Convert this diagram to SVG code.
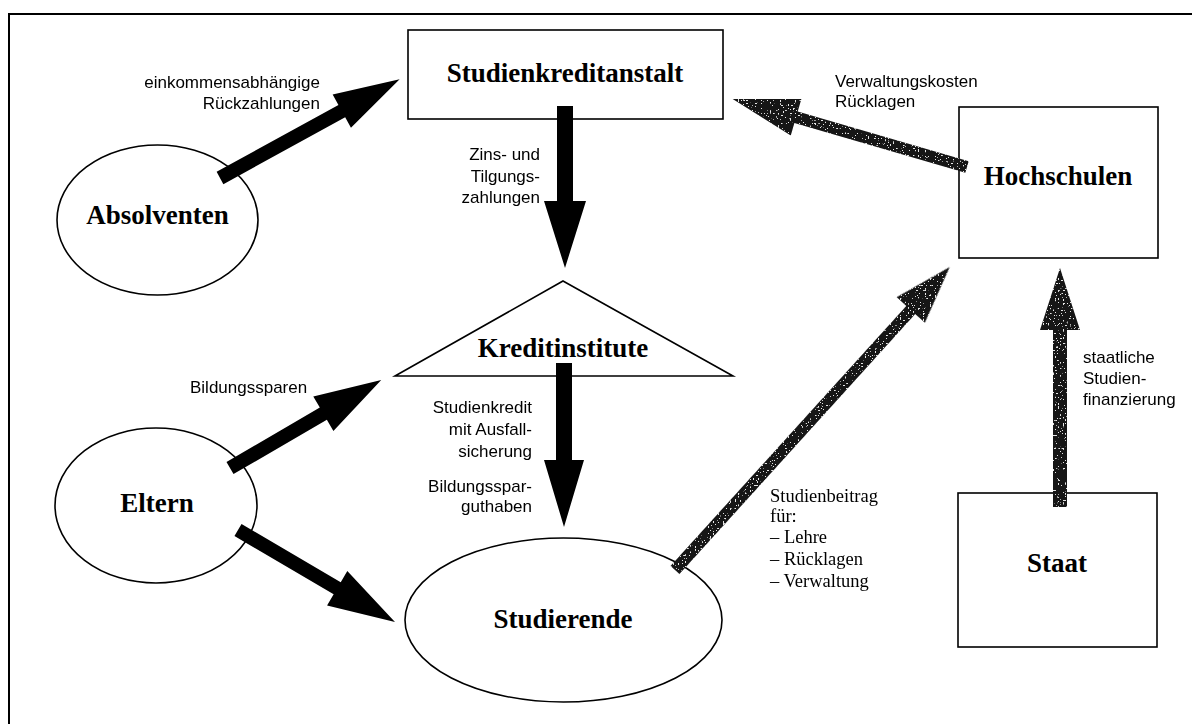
<svg xmlns="http://www.w3.org/2000/svg" width="1192" height="724" viewBox="0 0 1192 724">
<style>
  .frame{fill:none;stroke:#000;stroke-width:2}
  .node{fill:#fff;stroke:#000;stroke-width:1.6}
  .title{font-family:"Liberation Serif",serif;font-weight:bold;font-size:27px;fill:#000;text-anchor:middle}
  .lbl{font-family:"Liberation Sans",sans-serif;font-size:17px;fill:#000}
  .lbls{font-family:"Liberation Serif",serif;font-size:18.5px;fill:#000}
  .r{text-anchor:end}
  .arr{fill:#000}
  .gray{fill:#161616}
</style>
<defs>
  <filter id="speckle" x="-10%" y="-10%" width="120%" height="120%">
    <feTurbulence type="fractalNoise" baseFrequency="0.6" numOctaves="1" seed="7" result="n"/>
    <feColorMatrix in="n" type="matrix" values="0 0 0 0 0.8  0 0 0 0 0.8  0 0 0 0 0.8  0 0 0 -25 8.8" result="spots"/>
    <feComposite in="spots" in2="SourceGraphic" operator="in" result="s2"/>
    <feMerge><feMergeNode in="SourceGraphic"/><feMergeNode in="s2"/></feMerge>
  </filter>
</defs>
<rect width="1192" height="724" fill="#fff"/>
<rect class="frame" x="9" y="14" width="1200" height="730"/>

<g id="n-studienkreditanstalt">
  <rect class="node" x="408" y="30" width="315" height="89"/>
  <text class="title" x="565" y="82">Studienkreditanstalt</text>
</g>
<g id="n-absolventen">
  <ellipse class="node" cx="157.5" cy="220" rx="100.5" ry="75"/>
  <text class="title" x="157.5" y="224">Absolventen</text>
</g>
<g id="n-hochschulen">
  <rect class="node" x="959" y="107" width="199" height="151"/>
  <text class="title" x="1058" y="185">Hochschulen</text>
</g>
<g id="n-kreditinstitute">
  <polygon class="node" points="563,281 733,376 395,376"/>
  <text class="title" x="563" y="357">Kreditinstitute</text>
</g>
<g id="n-eltern">
  <ellipse class="node" cx="156" cy="505.5" rx="101" ry="77.5"/>
  <text class="title" x="157" y="512">Eltern</text>
</g>
<g id="n-studierende">
  <ellipse class="node" cx="563.5" cy="620" rx="158.5" ry="82"/>
  <text class="title" x="563" y="628">Studierende</text>
</g>
<g id="n-staat">
  <rect class="node" x="958" y="493" width="199" height="154"/>
  <text class="title" x="1057" y="572">Staat</text>
</g>

<g id="connectors">
  <polygon class="arr" transform="translate(220,178) rotate(-28.8)" points="0,-7 139,-7 139,-19 205,0 139,19 139,7 0,7"/>
  <polygon class="arr" transform="translate(565,106) rotate(90)" points="0,-8 95,-8 95,-21 162,0 95,21 95,8 0,8"/>
  <polygon class="arr" transform="translate(564,363) rotate(90)" points="0,-8 97,-8 97,-20 164,0 97,20 97,8 0,8"/>
  <polygon class="arr" transform="translate(230,468) rotate(-30.2)" points="0,-7 108,-7 108,-20 175,0 108,20 108,7 0,7"/>
  <polygon class="arr" transform="translate(238,530) rotate(30.4)" points="0,-7 115,-7 115,-20 182,0 115,20 115,7 0,7"/>
  <g filter="url(#speckle)">
    <polygon class="gray" transform="translate(967,167) rotate(196.2)" points="0,-6 178,-6 178,-19 244,0 178,19 178,6 0,6"/>
    <polygon class="gray" transform="translate(675,570) rotate(-47.8)" points="0,-6 351,-6 351,-19 409,0 351,19 351,6 0,6"/>
    <polygon class="gray" transform="translate(1060,507) rotate(-90)" points="0,-7 177,-7 177,-20 239,0 177,20 177,7 0,7"/>
  </g>
</g>

<g id="labels">
  <text class="lbl r" x="320" y="88">einkommensabhängige</text>
  <text class="lbl r" x="320" y="109">Rückzahlungen</text>
  <text class="lbl" x="835" y="87">Verwaltungskosten</text>
  <text class="lbl" x="835" y="107">Rücklagen</text>
  <text class="lbl r" x="540" y="160">Zins- und</text>
  <text class="lbl r" x="540" y="182">Tilgungs-</text>
  <text class="lbl r" x="540" y="203">zahlungen</text>
  <text class="lbl" x="190" y="393">Bildungssparen</text>
  <text class="lbl r" x="532" y="413">Studienkredit</text>
  <text class="lbl r" x="532" y="435">mit Ausfall-</text>
  <text class="lbl r" x="532" y="457">sicherung</text>
  <text class="lbl r" x="532" y="492">Bildungsspar-</text>
  <text class="lbl r" x="532" y="512">guthaben</text>
  <text class="lbl" x="1083" y="363">staatliche</text>
  <text class="lbl" x="1083" y="384">Studien-</text>
  <text class="lbl" x="1083" y="405">finanzierung</text>
  <text class="lbls" x="770" y="502">Studienbeitrag</text>
  <text class="lbls" x="770" y="522">für:</text>
  <text class="lbls" x="770" y="543">– Lehre</text>
  <text class="lbls" x="770" y="565">– Rücklagen</text>
  <text class="lbls" x="770" y="587">– Verwaltung</text>
</g>
</svg>
